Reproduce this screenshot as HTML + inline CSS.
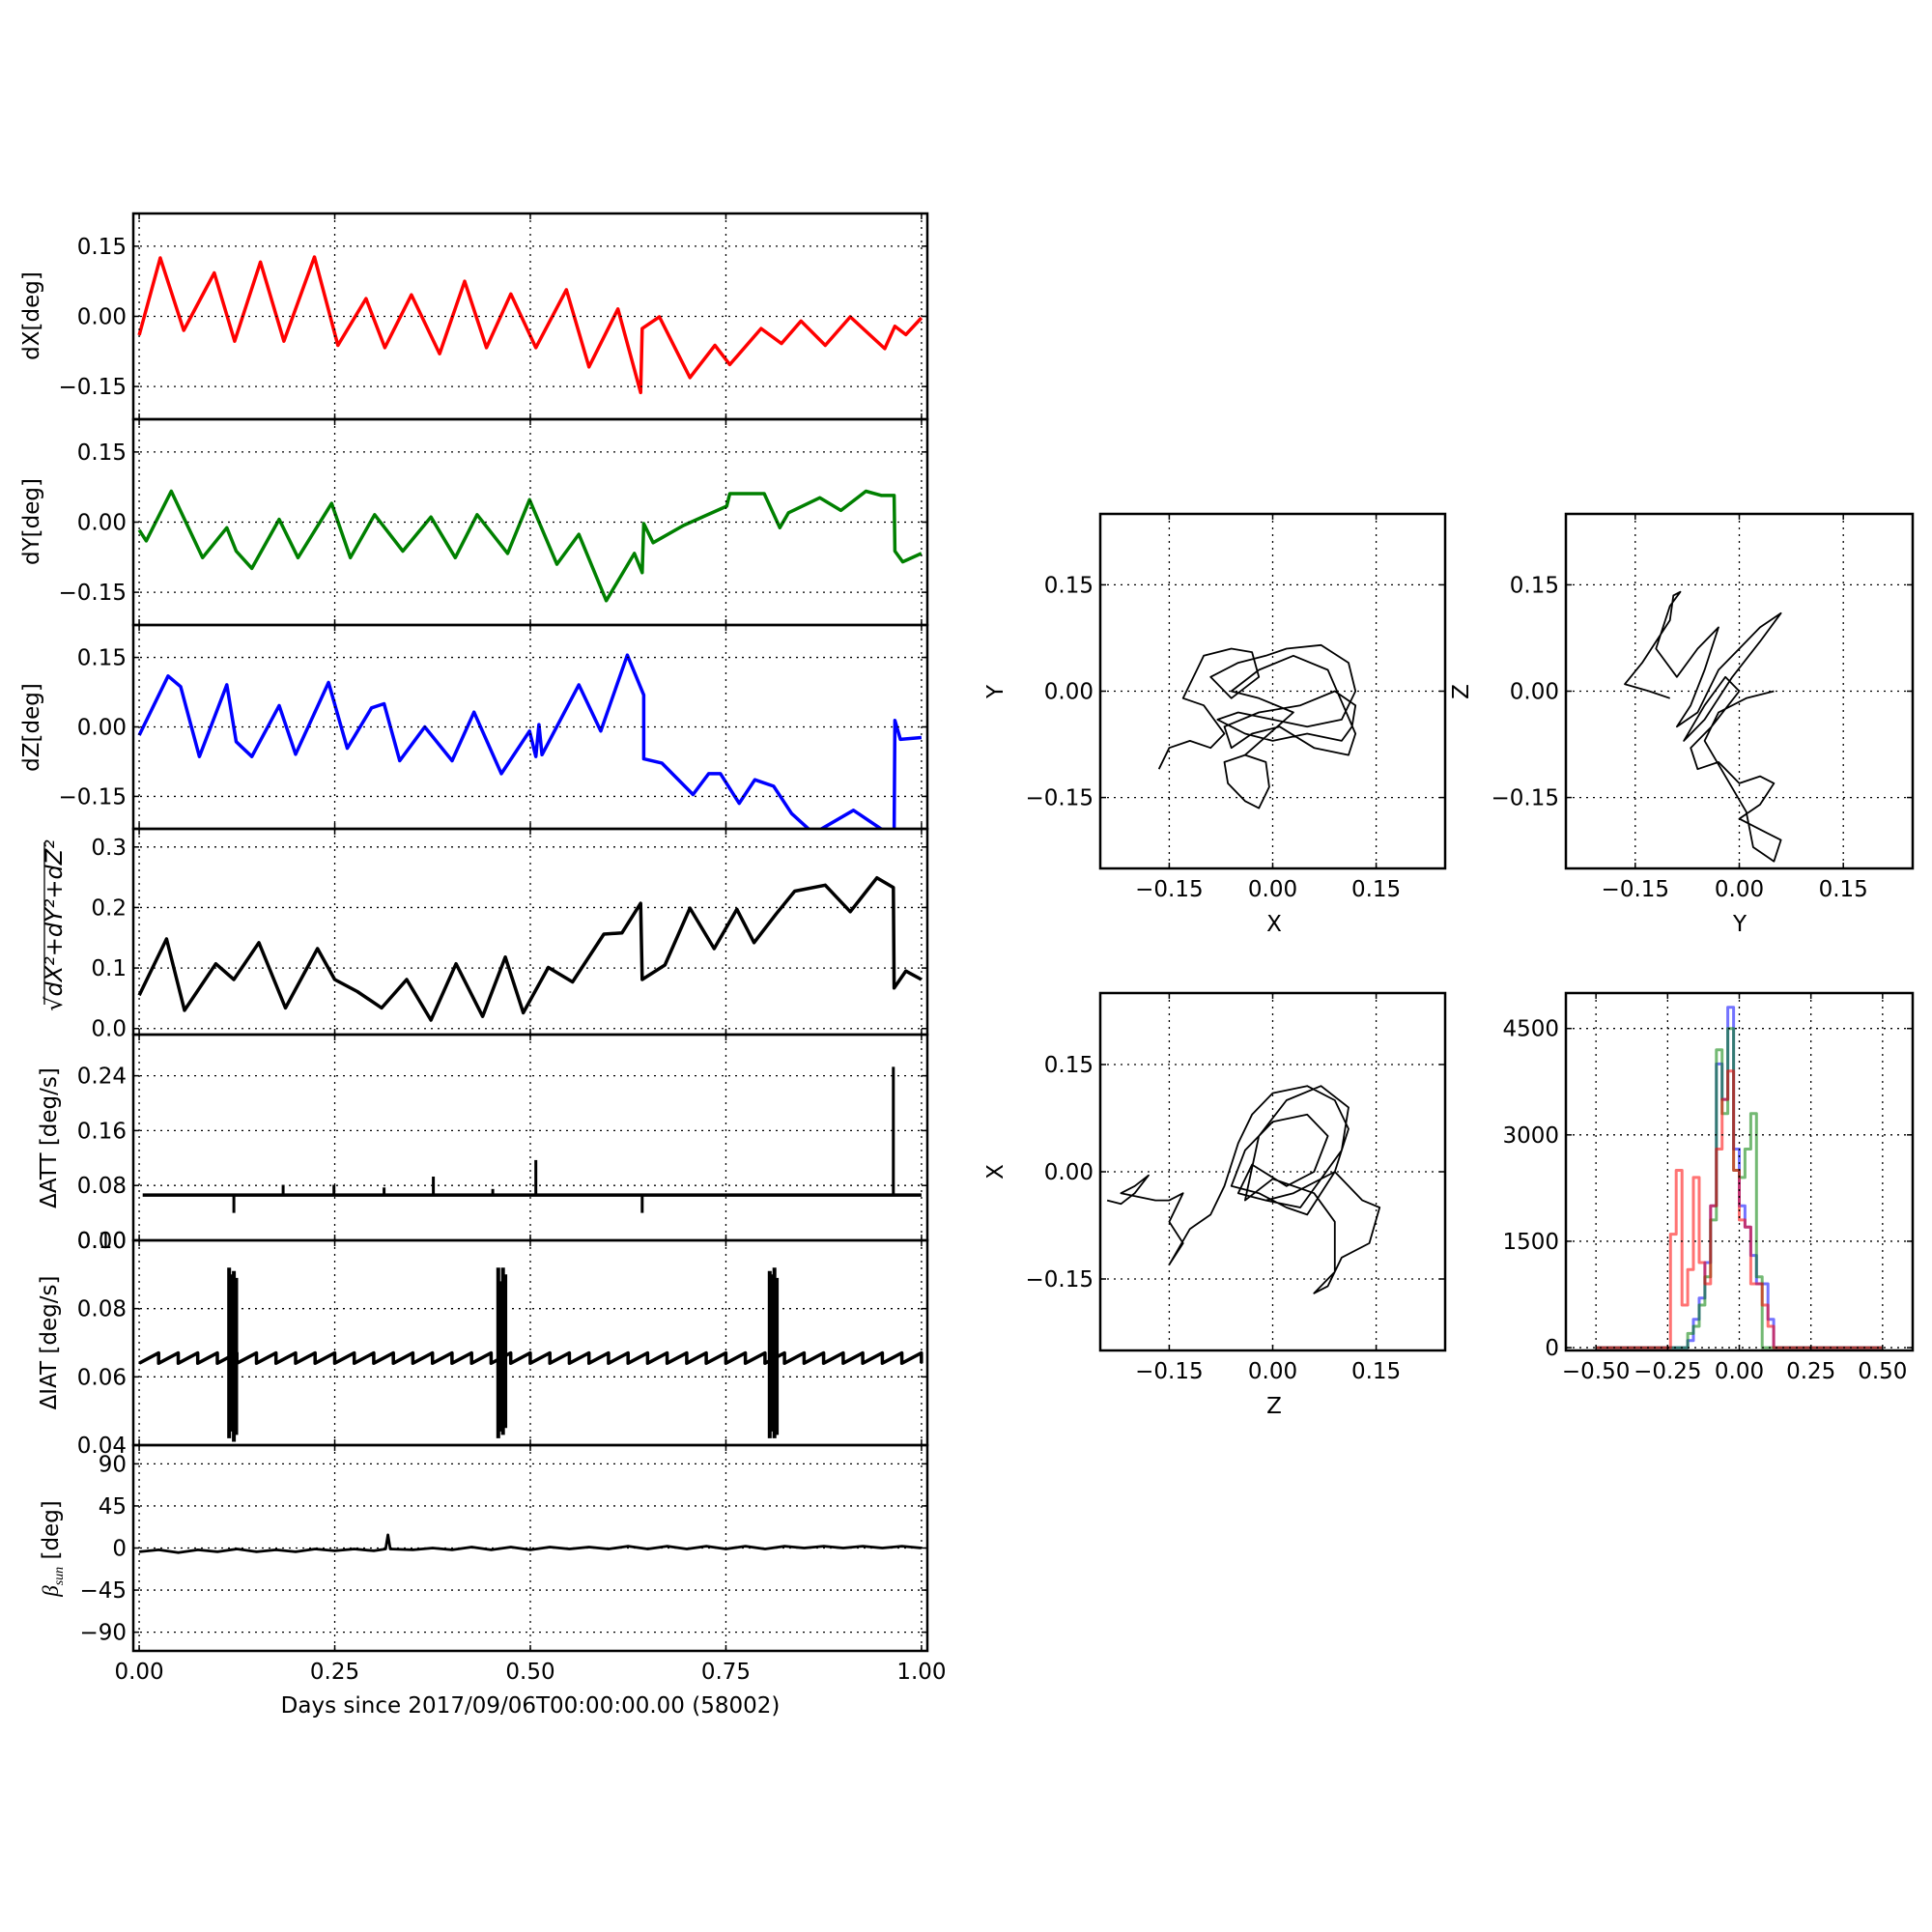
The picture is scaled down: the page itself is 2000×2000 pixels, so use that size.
<!DOCTYPE html>
<html><head><meta charset="utf-8"><style>
html,body{margin:0;padding:0;background:#fff;}
svg{display:block;}
text{font-family:"DejaVu Sans","Liberation Sans",sans-serif;fill:#000;}
</style></head><body>
<svg id="fig" width="2000" height="2000" viewBox="0 0 2000 2000" xmlns="http://www.w3.org/2000/svg">
<rect x="0" y="0" width="2000" height="2000" fill="#fff"/>
</svg>
<script>
// ---------- data ----------
const dxT=[0,.027,.057,.096,.122,.155,.185,.224,.254,.290,.314,.348,.384,.416,.444,.475,.507,.546,.575,.612,.641,.643,.665,.704,.736,.755,.795,.821,.846,.877,.909,.953,.966,.980,1.0];
const dxV=[-.04,.125,-.03,.093,-.053,.116,-.053,.127,-.062,.038,-.067,.046,-.08,.075,-.067,.048,-.067,.057,-.108,.016,-.163,-.026,-.001,-.131,-.062,-.103,-.026,-.058,-.01,-.062,-.001,-.069,-.021,-.039,-.003];
const dyT=[0,.009,.041,.081,.112,.124,.144,.179,.203,.246,.270,.301,.337,.373,.404,.432,.471,.499,.534,.562,.597,.633,.643,.645,.657,.696,.751,.755,.799,.819,.830,.870,.897,.929,.949,.965,.966,.976,1.0];
const dyV=[-.017,-.04,.066,-.076,-.012,-.062,-.099,.006,-.076,.04,-.076,.016,-.062,.011,-.076,.016,-.067,.048,-.09,-.026,-.168,-.067,-.108,-.003,-.044,-.007,.034,.061,.061,-.012,.02,.052,.025,.066,.057,.057,-.062,-.085,-.067];
const dzT=[0,.037,.053,.077,.112,.124,.144,.179,.200,.242,.266,.297,.313,.333,.365,.400,.428,.463,.499,.507,.511,.515,.562,.590,.624,.645,.645,.668,.708,.728,.743,.767,.787,.811,.834,.862,.913,.957,.965,.966,.973,1.0];
const dzV=[-.018,.11,.087,-.064,.091,-.032,-.064,.046,-.059,.096,-.046,.041,.05,-.073,0,-.073,.032,-.101,-.009,-.064,.005,-.06,.091,-.009,.155,.069,-.069,-.078,-.146,-.101,-.101,-.165,-.114,-.128,-.187,-.23,-.18,-.23,-.23,.014,-.027,-.023];
const rT=[0,.035,.058,.098,.121,.153,.187,.228,.250,.279,.310,.342,.373,.405,.439,.468,.491,.523,.554,.594,.617,.641,.643,.672,.704,.735,.764,.786,.814,.838,.877,.909,.943,.964,.965,.98,1.0];
const rV=[.055,.148,.03,.107,.081,.142,.034,.132,.081,.061,.034,.081,.014,.107,.02,.118,.026,.101,.077,.156,.158,.207,.081,.105,.199,.132,.197,.142,.189,.227,.237,.193,.249,.233,.067,.095,.081];
const attBase=0.066;
const attSpikeT=[.121,.184,.249,.313,.376,.452,.507,.643,.964];
const attSpikeV=[.04,.081,.081,.077,.093,.075,.117,.04,.253];
const iatToothT=[0,.025,.05,.075,.1,.125,.15,.175,.2,.225,.25,.275,.3,.325,.35,.375,.4,.425,.45,.475,.5,.525,.55,.575,.6,.625,.65,.675,.7,.725,.75,.775,.8,.825,.85,.875,.9,.925,.95,.975];
const iatLow=0.064, iatHigh=0.067;
const iatBurstT=[.115,.118,.121,.124,.459,.462,.465,.468,.806,.809,.812,.815];
const iatBurstLo=[.042,.044,.041,.043,.042,.044,.043,.045,.042,.044,.042,.043];
const iatBurstHi=[.092,.09,.091,.089,.092,.088,.092,.09,.091,.09,.092,.089];
const betaT=[0,.025,.05,.075,.1,.125,.15,.175,.2,.225,.25,.275,.3,.315,.318,.321,.35,.375,.4,.425,.45,.475,.5,.525,.55,.575,.6,.625,.65,.675,.7,.725,.75,.775,.8,.825,.85,.875,.9,.925,.95,.975,1.0];
const betaV=[-4,-2,-5,-2,-4,-1,-4,-2,-4,-1,-3,-1,-3,-1,14,-1,-2,0,-2,1,-2,1,-2,1,-1,1,-1,2,-1,2,-1,2,-1,2,-1,2,0,2,0,2,0,2,0];
const xyX=[-.165,-.15,-.12,-.09,-.07,-.1,-.13,-.11,-.1,-.06,-.03,-.02,-.06,-.09,-.05,-.01,.02,.07,.11,.12,.1,.05,0,-.05,-.08,-.04,0,.05,.1,.115,.12,.09,.04,-.02,-.07,-.06,-.03,.01,.06,.11,.12,.08,.03,-.02,-.06,-.02,.03,-.04,-.07,-.065,-.04,-.02,-.005,-.01,-.04];
const xyY=[-.11,-.08,-.07,-.08,-.06,-.02,-.01,.03,.05,.06,.055,.02,-.01,.02,.04,.05,.06,.065,.04,0,-.04,-.05,-.04,-.03,-.04,-.06,-.07,-.06,-.07,-.05,-.02,0,-.02,-.03,-.05,-.08,-.06,-.05,-.08,-.09,-.06,.03,.05,.03,0,-.01,-.03,-.09,-.1,-.13,-.155,-.165,-.135,-.1,-.09];
const yzY=[-.1,-.13,-.165,-.14,-.12,-.1,-.095,-.085,-.1,-.12,-.09,-.06,-.03,-.05,-.07,-.09,-.06,-.03,0,.03,.06,.03,-.01,-.05,-.08,-.05,-.02,0,-.04,-.07,-.06,-.03,0,.03,.05,.03,0,.04,.06,.05,.02,.01,-.02,-.05,-.03,.01,.05];
const yzZ=[-.01,0,.01,.04,.07,.1,.135,.14,.12,.06,.02,.06,.09,.03,-.02,-.05,-.03,.03,.06,.09,.11,.07,.02,-.04,-.07,-.02,.02,0,-.05,-.08,-.11,-.1,-.13,-.12,-.13,-.16,-.18,-.2,-.21,-.24,-.22,-.17,-.12,-.07,-.03,-.01,0];
const zxZ=[-.24,-.22,-.2,-.18,-.2,-.22,-.17,-.15,-.13,-.15,-.13,-.15,-.12,-.09,-.07,-.05,-.03,0,.05,.09,.11,.09,.05,.02,-.02,-.06,-.04,0,.05,.08,.06,.02,-.03,-.05,-.01,.03,.09,.13,.155,.14,.1,.08,.06,.09,.09,.06,0,-.04,-.02,.02,.07,.11,.1,.04,-.01];
const zxX=[-.04,-.045,-.03,-.005,-.02,-.03,-.04,-.04,-.03,-.07,-.1,-.13,-.08,-.06,-.02,.04,.08,.11,.12,.1,.06,0,-.06,-.05,-.03,-.02,.03,.07,.08,.05,0,-.02,.01,-.03,-.04,-.03,0,-.04,-.05,-.1,-.12,-.16,-.17,-.14,-.07,-.03,-.01,-.04,.05,.1,.12,.09,.03,-.05,-.04];
const histBins=[-.26,-.24,-.22,-.20,-.18,-.16,-.14,-.12,-.10,-.08,-.06,-.04,-.02,0,.02,.04,.06,.08,.10,.12];
const histRed=[0,1600,2500,600,1100,2400,1200,900,2000,2800,3500,3900,2500,1800,1700,900,900,600,300,0];
const histBlue=[0,0,0,0,100,400,700,1200,2000,4000,3500,4800,2800,2000,1700,1300,900,900,400,0];
const histGreen=[0,0,0,0,200,300,600,1000,1800,4200,3300,4500,2500,2400,2800,3300,1000,0,0,0];
const dayTicks=[0,.25,.5,.75,1];
const dayTickLabels=["0.00","0.25","0.50","0.75","1.00"];
const degTicks=[-.15,0,.15];
const degTickLabels=["\u22120.15","0.00","0.15"];
const rTicks=[0,.1,.2,.3], rTickLabels=["0.0","0.1","0.2","0.3"];
const attTicks=[0,.08,.16,.24], attTickLabels=["0.00","0.08","0.16","0.24"];
const iatTicks=[.04,.06,.08,.10], iatTickLabels=["0.04","0.06","0.08","0.10"];
const betaTicks=[-90,-45,0,45,90], betaTickLabels=["\u221290","\u221245","0","45","90"];
const histXTicks=[-.5,-.25,0,.25,.5], histXTickLabels=["\u22120.50","\u22120.25","0.00","0.25","0.50"];
const histYTicks=[0,1500,3000,4500], histYTickLabels=["0","1500","3000","4500"];

// ---------- drawing ----------
const NS='http://www.w3.org/2000/svg';
const svg=document.getElementById('fig');
const FS=23;
function mk(tag,attrs,parent){const e=document.createElementNS(NS,tag);for(const k in attrs)e.setAttribute(k,attrs[k]);(parent||svg).appendChild(e);return e;}
let clipN=0;
function axes(name,L,T,R,B,xl,yl){
  const g=mk('g',{});
  
  
  const id='clip'+(clipN++);
  const cp=mk('clipPath',{id:id},g);
  mk('rect',{x:L,y:T,width:R-L,height:B-T},cp);
  const data=mk('g',{'clip-path':'url(#'+id+')'},g);
  
  
  return {g,data,L,T,R,B,sx:v=>L+(v-xl[0])/(xl[1]-xl[0])*(R-L),sy:v=>B-(v-yl[0])/(yl[1]-yl[0])*(B-T)};
}
function decorate(ax,xt,xtl,yt,ytl){
  const {g,L,T,R,B}=ax;
  xt.forEach((v,i)=>{const x=ax.sx(v);
    const gl=mk('line',{x1:x,y1:T,x2:x,y2:B,stroke:'#000','stroke-width':1.3,'stroke-dasharray':'2,5'},g);
    
    
    mk('line',{x1:x,y1:B,x2:x,y2:B-6,stroke:'#000','stroke-width':1.5},g);
    mk('line',{x1:x,y1:T,x2:x,y2:T+6,stroke:'#000','stroke-width':1.5},g);
    if(xtl){const t=mk('text',{x:x,y:B+29,'font-size':FS,'text-anchor':'middle'},g);t.textContent=xtl[i];
      
      }
  });
  yt.forEach((v,i)=>{const y=ax.sy(v);
    const gl=mk('line',{x1:L,y1:y,x2:R,y2:y,stroke:'#000','stroke-width':1.3,'stroke-dasharray':'2,5'},g);
    
    
    mk('line',{x1:L,y1:y,x2:L+6,y2:y,stroke:'#000','stroke-width':1.5},g);
    mk('line',{x1:R,y1:y,x2:R-6,y2:y,stroke:'#000','stroke-width':1.5},g);
    const t=mk('text',{x:L-7,y:y+8,'font-size':FS,'text-anchor':'end'},g);t.textContent=ytl[i];
    
    
  });
  const fr=mk('rect',{x:L,y:T,width:R-L,height:B-T,fill:'none',stroke:'#000','stroke-width':2.5},g);
  
  
}
function line(ax,xs,ys,color,w,name,op){
  let d='';xs.forEach((v,i)=>{d+=(i?'L':'M')+ax.sx(v).toFixed(1)+','+ax.sy(ys[i]).toFixed(1);});
  const p=mk('path',{d:d,fill:'none',stroke:color,'stroke-width':w,'stroke-linejoin':'round','stroke-opacity':op||1},ax.data);
  
  
  return p;
}
function ylabel(x,y,txt,name,size){
  const t=mk('text',{x:x,y:y,'font-size':size||FS,'text-anchor':'middle',transform:'rotate(-90 '+x+' '+y+')'});
  t.textContent=txt;
  
  
  return t;
}
function label(x,y,txt,name){
  const t=mk('text',{x:x,y:y,'font-size':FS,'text-anchor':'middle'});
  t.textContent=txt;
  
  
}

const L=138,R=960,XL=[-.0075,1.0075];
const P=[221,434,647,858,1071,1284,1496,1709];
let a=axes('dx-panel',L,P[0],R,P[1],XL,[-.22,.22]);
decorate(a,dayTicks,null,degTicks,degTickLabels);
line(a,dxT,dxV,'#ff0000',3.5,'dx-series');
ylabel(40,327,'dX[deg]','dx-axis-title');
a=axes('dy-panel',L,P[1],R,P[2],XL,[-.22,.22]);
decorate(a,dayTicks,null,degTicks,degTickLabels);
line(a,dyT,dyV,'#008000',3.5,'dy-series');
ylabel(40,540,'dY[deg]','dy-axis-title');
a=axes('dz-panel',L,P[2],R,P[3],XL,[-.22,.22]);
decorate(a,dayTicks,null,degTicks,degTickLabels);
line(a,dzT,dzV,'#0000ff',3.5,'dz-series');
ylabel(40,753,'dZ[deg]','dz-axis-title');
a=axes('magnitude-panel',L,P[3],R,P[4],XL,[-.01,.33]);
decorate(a,dayTicks,null,rTicks,rTickLabels);
line(a,rT,rV,'#000',3.5,'magnitude-series');
{const x=64,y=958;
 const t=mk('text',{x:x,y:y,'font-size':24,'text-anchor':'middle','font-family':'Liberation Serif, serif','font-style':'italic',transform:'rotate(-90 '+x+' '+y+')'});
 t.textContent='\u221AdX\u00B2+dY\u00B2+dZ\u00B2';
 
 
 const ov=mk('line',{x1:46,y1:872,x2:46,y2:1040,stroke:'#000','stroke-width':1.3});
 
 }
a=axes('att-panel',L,P[4],R,P[5],XL,[0,.3]);
decorate(a,dayTicks,null,attTicks,attTickLabels);
line(a,[XL[0]+.012,1.0],[attBase,attBase],'#000',3.5,'att-baseline');
attSpikeT.forEach((t,i)=>{line(a,[t,t],[attBase,attSpikeV[i]],'#000',3,'att-spike');});
ylabel(58,1178,'\u0394ATT [deg/s]','att-axis-title');
a=axes('iat-panel',L,P[5],R,P[6],XL,[.04,.10]);
decorate(a,dayTicks,null,iatTicks,iatTickLabels);
{const xs=[],ys=[];iatToothT.forEach(t=>{xs.push(t,t+.0249,t+.0249);ys.push(iatLow,iatHigh,iatLow);});
 line(a,xs,ys,'#000',3.5,'iat-series');}
iatBurstT.forEach((t,i)=>{line(a,[t,t],[iatBurstLo[i],iatBurstHi[i]],'#000',4,'iat-burst');});
ylabel(58,1390,'\u0394IAT [deg/s]','iat-axis-title');
a=axes('beta-panel',L,P[6],R,P[7],XL,[-110,110]);
decorate(a,dayTicks,dayTickLabels,betaTicks,betaTickLabels);
line(a,betaT,betaV,'#000',2.8,'beta-series');
{const x=60,y=1603;
 const t=mk('text',{x:x,y:y,'font-size':FS,'text-anchor':'middle',transform:'rotate(-90 '+x+' '+y+')'});
 
 
 const s1=mk('tspan',{'font-family':'Liberation Serif, serif','font-style':'italic'},t);s1.textContent='\u03B2';
 const s2=mk('tspan',{'font-family':'Liberation Serif, serif','font-style':'italic','font-size':14,dy:5},t);s2.textContent='sun';
 const s3=mk('tspan',{dy:-5},t);s3.textContent=' [deg]';}
label(549,1773,'Days since 2017/09/06T00:00:00.00 (58002)','x-axis-title');

const S=[-.25,.25];
a=axes('xy-scatter',1139,532,1496,899,S,S);
decorate(a,degTicks,degTickLabels,degTicks,degTickLabels);
line(a,xyX,xyY,'#000',1.8,'xy-trajectory');
label(1319,964,'X','xy-x-axis-title');
ylabel(1038,716,'Y','xy-y-axis-title');

a=axes('yz-scatter',1621,532,1980,899,S,S);
decorate(a,degTicks,degTickLabels,degTicks,degTickLabels);
line(a,yzY,yzZ,'#000',1.8,'yz-trajectory');
label(1801,964,'Y','yz-x-axis-title');
ylabel(1520,716,'Z','yz-y-axis-title');

a=axes('zx-scatter',1139,1028,1496,1398,S,S);
decorate(a,degTicks,degTickLabels,degTicks,degTickLabels);
line(a,zxZ,zxX,'#000',1.8,'zx-trajectory');
label(1319,1463,'Z','zx-x-axis-title');
ylabel(1038,1213,'X','zx-y-axis-title');

a=axes('histogram-panel',1621,1028,1980,1398,[-.605,.605],[-40,5000]);
decorate(a,histXTicks,histXTickLabels,histYTicks,histYTickLabels);
function hist(counts,color,name){
  const xs=[-.5],ys=[0];
  histBins.forEach((b,i)=>{xs.push(b,b+.02);ys.push(counts[i],counts[i]);});
  xs.push(.5);ys.push(0);
  line(a,xs,ys,color,3,name,.55);
}
hist(histBlue,'#0000ff','hist-dz');
hist(histGreen,'#008000','hist-dy');
hist(histRed,'#ff0000','hist-dx');
</script>
</body></html>
